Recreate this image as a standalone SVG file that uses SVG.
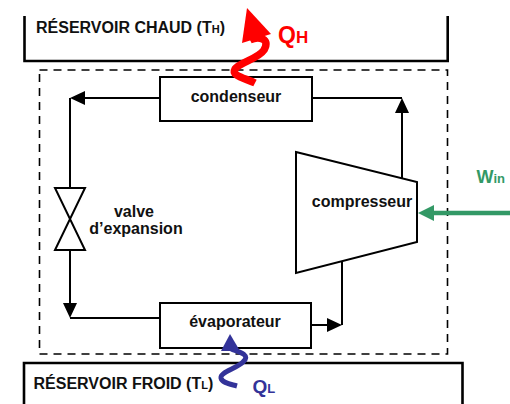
<svg xmlns="http://www.w3.org/2000/svg" width="510" height="404" viewBox="0 0 510 404">
<style>
.lbl{font-family:"Liberation Sans",Arial,sans-serif;font-weight:bold;font-size:16px;fill:#111}
.box{fill:#fff;stroke:#000;stroke-width:2}
.res{fill:none;stroke:#000;stroke-width:2.6}
.wire{fill:none;stroke:#000;stroke-width:2}
</style>
<defs>
<marker id="ah" markerUnits="userSpaceOnUse" markerWidth="16" markerHeight="16" refX="0" refY="7" orient="auto" overflow="visible">
<path d="M0,0 L15,7 L0,14 z" fill="#000"/>
</marker>
<marker id="ahg" markerUnits="userSpaceOnUse" markerWidth="18" markerHeight="18" refX="0" refY="8" orient="auto" overflow="visible">
<path d="M0,0 L16,8 L0,16 z" fill="#339966"/>
</marker>
</defs>
<rect width="510" height="404" fill="#fff"/>

<g id="hot-reservoir">
<path class="res" d="M24.5 16 V61 H447.7 V16"/>
<text class="lbl" x="36" y="33">RÉSERVOIR CHAUD (T<tspan font-size="11">H</tspan>)</text>
</g>

<g id="cold-reservoir">
<path class="res" d="M24 404 V363 H462.5 V404"/>
<text class="lbl" x="33.5" y="389">RÉSERVOIR FROID (T<tspan font-size="11">L</tspan>)</text>
</g>

<g id="system-boundary">
<rect x="39.5" y="70" width="408" height="284" fill="none" stroke="#000" stroke-width="1.6" stroke-dasharray="8 6"/>
</g>

<g id="connectors">
<path class="wire" d="M312 98 H402"/>
<path class="wire" d="M402 178 V113" marker-end="url(#ah)"/>
<path class="wire" d="M160 98 H85" marker-end="url(#ah)"/>
<path class="wire" d="M70 98 V188"/>
<path class="wire" d="M70 250 V303" marker-end="url(#ah)"/>
<path class="wire" d="M70 318 H160"/>
<path class="wire" d="M311 325 H327" marker-end="url(#ah)"/>
<path class="wire" d="M342 325 V261"/>
<path d="M510 213 H434" fill="none" stroke="#339966" stroke-width="4.5" marker-end="url(#ahg)"/>
</g>

<g id="condenser">
<rect class="box" x="160" y="77" width="152" height="44"/>
<text class="lbl" x="236" y="102" text-anchor="middle">condenseur</text>
</g>

<g id="evaporator">
<rect class="box" x="160" y="303" width="151" height="45"/>
<text class="lbl" x="235" y="327" text-anchor="middle">évaporateur</text>
</g>

<g id="compressor">
<polygon class="box" points="296,152 417,182 417,242 296,273"/>
<text class="lbl" x="362" y="207" text-anchor="middle">compresseur</text>
</g>

<g id="expansion-valve">
<polygon class="box" points="55,188 85,188 55,250 85,250" fill="none"/>
<text class="lbl" x="134" y="217" text-anchor="middle">valve</text>
<text class="lbl" x="136" y="234" text-anchor="middle">d’expansion</text>
</g>

<g id="QH">
<path d="M250 40 C258 36 271 38 264 50 C258 59 240 62 235 69 C231 76 245 78 255 83" fill="none" stroke="#ff0000" stroke-width="7.5"/>
<polygon points="247,8 271,34 242,43" fill="#ff0000"/>
<text x="278" y="43" font-family="Liberation Sans, Arial, sans-serif" font-weight="bold" fill="#ff0000"><tspan font-size="23">Q</tspan><tspan font-size="17">H</tspan></text>
</g>

<g id="QL">
<path d="M231 349 C240 352 251 355 243 362 C236 369 220 372 221 378 C222 383 230 384 237 386" fill="none" stroke="#333399" stroke-width="5"/>
<polygon points="230,334 240,351 221,351" fill="#333399"/>
<text x="252.5" y="393" font-family="Liberation Sans, Arial, sans-serif" font-weight="bold" fill="#333399"><tspan font-size="19">Q</tspan><tspan font-size="13">L</tspan></text>
</g>

<g id="Win">
<text x="476.5" y="183" font-family="Liberation Sans, Arial, sans-serif" font-weight="bold" fill="#339966"><tspan font-size="18">W</tspan><tspan font-size="13">in</tspan></text>
</g>
</svg>
